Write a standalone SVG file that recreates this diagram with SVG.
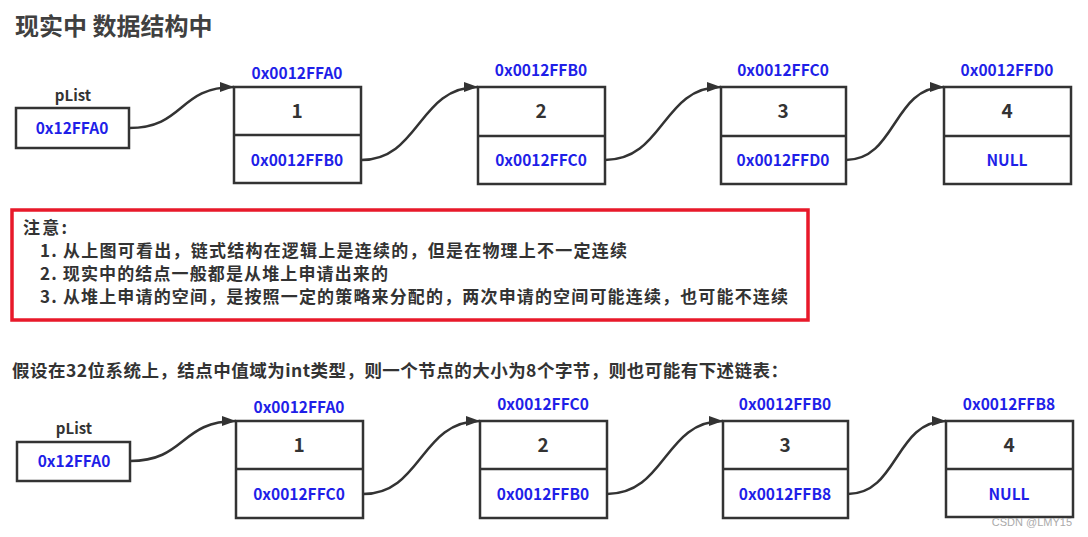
<svg xmlns="http://www.w3.org/2000/svg" width="1088" height="537" viewBox="0 0 1088 537">
<defs>
<marker id="arr" viewBox="0 0 14 10" refX="14" refY="5" markerWidth="14" markerHeight="10" markerUnits="userSpaceOnUse" orient="auto">
<path d="M0,0 L14,5 L0,10 Z" fill="#333"/>
</marker>
<style>
.t{font-family:"Noto Sans CJK SC","Noto Sans",sans-serif;font-weight:bold}
.box{fill:#fff;stroke:#333;stroke-width:2.5}
.blue{fill:#1f1fe8;font-size:15.5px;text-anchor:middle}
.num{fill:#333;font-size:19px;text-anchor:middle}
.lbl{fill:#333;font-size:15px;text-anchor:middle}
.con{fill:none;stroke:#333;stroke-width:2.5;marker-end:url(#arr)}
.note{fill:#333;font-size:17px}
</style>
</defs>
<rect width="1088" height="537" fill="#fff"/>
<text class="t" x="15" y="35" font-size="24" fill="#404040">现实中 数据结构中</text>

<g id="top-plist">
<text class="t lbl" x="73" y="101">pList</text>
<rect class="box" x="16" y="108" width="113" height="40"/>
<text class="t blue" x="72" y="134">0x12FFA0</text>
</g>
<g id="top-n1">
<text class="t blue" x="297" y="79">0x0012FFA0</text>
<rect class="box" x="234" y="87" width="127" height="96"/>
<line x1="234" y1="135" x2="361" y2="135" stroke="#333" stroke-width="2.5"/>
<text class="t num" x="297" y="118">1</text>
<text class="t blue" x="297" y="166">0x0012FFB0</text>
</g>
<g id="top-n2">
<text class="t blue" x="541" y="76">0x0012FFB0</text>
<rect class="box" x="478" y="87" width="127" height="97"/>
<line x1="478" y1="136" x2="605" y2="136" stroke="#333" stroke-width="2.5"/>
<text class="t num" x="541" y="118">2</text>
<text class="t blue" x="541" y="166">0x0012FFC0</text>
</g>
<g id="top-n3">
<text class="t blue" x="783" y="76">0x0012FFC0</text>
<rect class="box" x="721" y="87" width="125" height="97"/>
<line x1="721" y1="136" x2="846" y2="136" stroke="#333" stroke-width="2.5"/>
<text class="t num" x="783" y="118">3</text>
<text class="t blue" x="783" y="166">0x0012FFD0</text>
</g>
<g id="top-n4">
<text class="t blue" x="1007" y="76">0x0012FFD0</text>
<rect class="box" x="944" y="87" width="127" height="97"/>
<line x1="944" y1="136" x2="1071" y2="136" stroke="#333" stroke-width="2.5"/>
<text class="t num" x="1007" y="118">4</text>
<text class="t blue" x="1007" y="166">NULL</text>
</g>

<g id="note">
<rect x="12" y="210" width="796" height="110" fill="none" stroke="#e8192a" stroke-width="3.5"/>
<text class="t note" x="23" y="234" textLength="44" lengthAdjust="spacing">注意:</text>
<text class="t note" x="40" y="257" textLength="587" lengthAdjust="spacing">1. 从上图可看出，链式结构在逻辑上是连续的，但是在物理上不一定连续</text>
<text class="t note" x="40" y="280" textLength="348" lengthAdjust="spacing">2. 现实中的结点一般都是从堆上申请出来的</text>
<text class="t note" x="40" y="303" textLength="748" lengthAdjust="spacing">3. 从堆上申请的空间，是按照一定的策略来分配的，两次申请的空间可能连续，也可能不连续</text>
</g>

<text class="t" x="12" y="377" font-size="17.5" fill="#333" textLength="776" lengthAdjust="spacing">假设在32位系统上，结点中值域为int类型，则一个节点的大小为8个字节，则也可能有下述链表：</text>

<g id="bot-plist">
<text class="t lbl" x="74" y="434">pList</text>
<rect class="box" x="17" y="442" width="113" height="39"/>
<text class="t blue" x="74" y="467">0x12FFA0</text>
</g>
<g id="bot-n1">
<text class="t blue" x="299" y="413">0x0012FFA0</text>
<rect class="box" x="236" y="421" width="127" height="97"/>
<line x1="236" y1="469" x2="363" y2="469" stroke="#333" stroke-width="2.5"/>
<text class="t num" x="299" y="452">1</text>
<text class="t blue" x="299" y="500">0x0012FFC0</text>
</g>
<g id="bot-n2">
<text class="t blue" x="543" y="410">0x0012FFC0</text>
<rect class="box" x="480" y="421" width="127" height="97"/>
<line x1="480" y1="469" x2="607" y2="469" stroke="#333" stroke-width="2.5"/>
<text class="t num" x="543" y="452">2</text>
<text class="t blue" x="543" y="500">0x0012FFB0</text>
</g>
<g id="bot-n3">
<text class="t blue" x="785" y="410">0x0012FFB0</text>
<rect class="box" x="723" y="421" width="125" height="97"/>
<line x1="723" y1="469" x2="848" y2="469" stroke="#333" stroke-width="2.5"/>
<text class="t num" x="785" y="452">3</text>
<text class="t blue" x="785" y="500">0x0012FFB8</text>
</g>
<g id="bot-n4">
<text class="t blue" x="1009" y="410">0x0012FFB8</text>
<rect class="box" x="946" y="421" width="127" height="96"/>
<line x1="946" y1="469" x2="1073" y2="469" stroke="#333" stroke-width="2.5"/>
<text class="t num" x="1009" y="452">4</text>
<text class="t blue" x="1009" y="500">NULL</text>
</g>

<g id="connectors">
<path class="con" d="M129,128 C185,128 178,87 234,87"/>
<path class="con" d="M361,160 C420,160 418,87 478,87"/>
<path class="con" d="M605,160 C664,160 662,87 721,87"/>
<path class="con" d="M846,160 C896,160 893,87 944,87"/>
<path class="con" d="M130,461 C186,461 180,421 236,421"/>
<path class="con" d="M363,494 C422,494 420,421 480,421"/>
<path class="con" d="M607,494 C666,494 664,421 723,421"/>
<path class="con" d="M848,494 C898,494 895,421 946,421"/>
</g>

<text x="1072" y="526" font-family="Liberation Sans, sans-serif" font-size="11" fill="#aaa" text-anchor="end">CSDN @LMY15</text>
</svg>
